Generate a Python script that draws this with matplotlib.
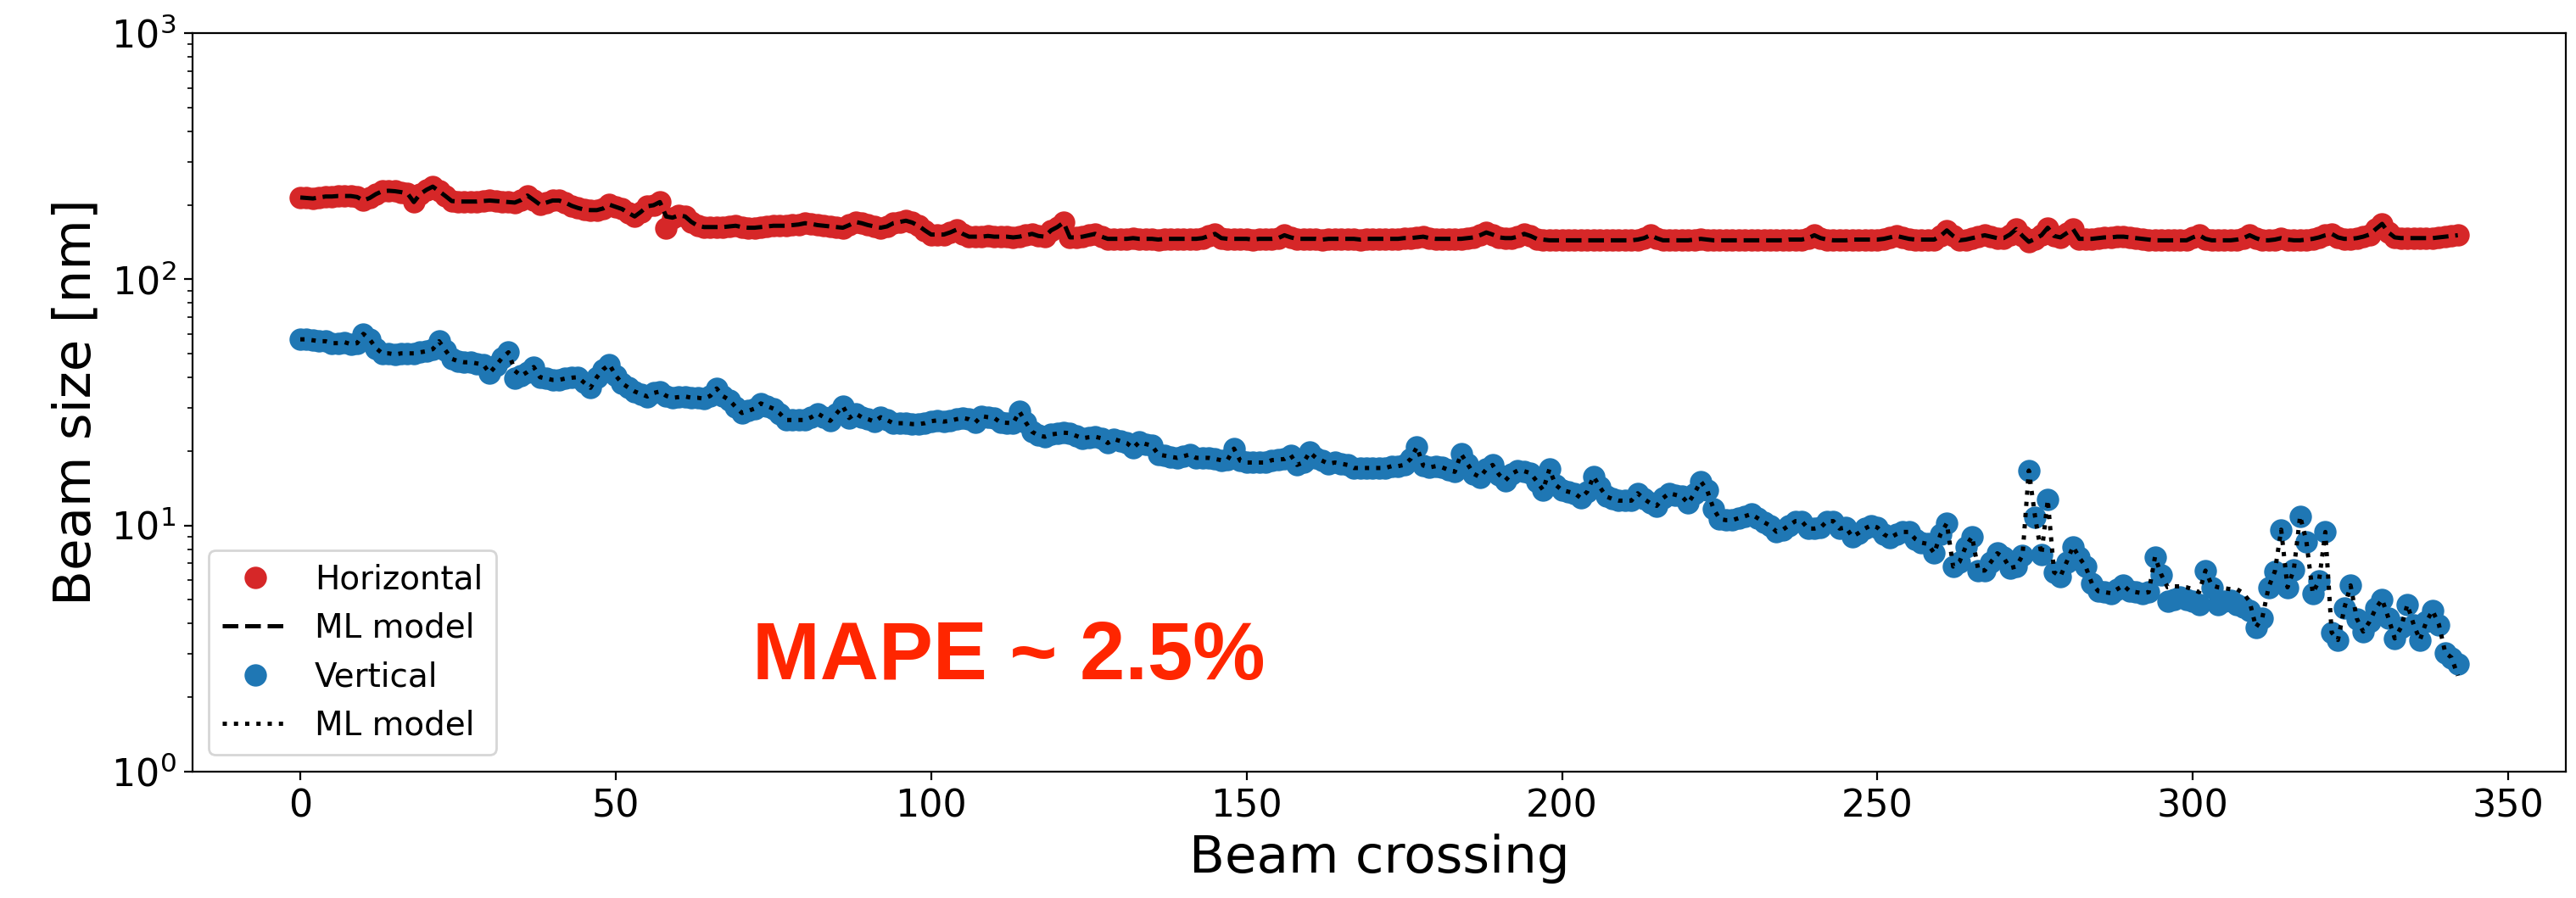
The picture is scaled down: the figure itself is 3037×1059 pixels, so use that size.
import numpy as np
import matplotlib.pyplot as plt

# horizontal beam size [nm], one value per beam crossing
horizontal = [
    215, 214, 213, 215, 217, 217, 218, 218, 218, 216,
    209, 214, 222, 228, 229, 228, 226, 223, 206, 222,
    231, 238, 228, 218, 208, 207, 207, 207, 207, 208,
    209, 208, 207, 206, 205, 210, 219, 210, 201, 205,
    209, 209, 205, 199, 195, 192, 191, 191, 194, 201,
    197, 193, 186, 180, 188, 198, 200, 206, 162, 178,
    182, 180, 171, 165, 163, 163, 163, 163, 164, 165,
    163, 162, 162, 163, 164, 165, 165, 165, 166, 167,
    169, 168, 166, 165, 164, 163, 162, 166, 171, 169,
    166, 164, 162, 164, 169, 171, 173, 170, 165, 158,
    152, 152, 152, 155, 159, 153, 149, 149, 149, 150,
    149, 149, 149, 148, 149, 151, 153, 150, 149, 158,
    163, 170, 148, 148, 149, 151, 153, 149, 146, 146,
    146, 146, 147, 146, 146, 146, 145, 146, 146, 146,
    146, 146, 146, 147, 150, 153, 147, 146, 146, 146,
    146, 145, 146, 146, 146, 147, 151, 148, 146, 146,
    146, 146, 145, 146, 146, 146, 146, 146, 145, 146,
    146, 146, 146, 146, 146, 147, 147, 148, 149, 147,
    146, 146, 146, 146, 146, 147, 148, 151, 155, 152,
    148, 147, 147, 149, 153, 150, 146, 145, 144, 144,
    144, 144, 144, 144, 144, 144, 144, 144, 144, 144,
    144, 144, 145, 147, 151, 147, 144, 144, 144, 144,
    144, 145, 146, 145, 144, 144, 144, 144, 144, 144,
    144, 144, 144, 144, 144, 144, 145, 145, 145, 147,
    151, 147, 145, 144, 144, 144, 145, 145, 145, 145,
    145, 146, 148, 150, 148, 146, 145, 145, 145, 145,
    150, 158, 150, 144, 145, 147, 149, 151, 149, 147,
    147, 152, 160, 150, 142, 146, 151, 162, 150, 148,
    154, 160, 146, 146, 146, 147, 148, 148, 149, 149,
    148, 147, 146, 145, 144, 144, 144, 144, 144, 144,
    148, 151, 146, 144, 144, 144, 144, 145, 147, 151,
    147, 144, 144, 145, 147, 145, 144, 144, 145, 146,
    148, 151, 153, 148, 146, 146, 147, 149, 152, 160,
    168, 155, 148, 147, 147, 147, 147, 147, 147, 148,
    149, 150, 151,
]

# vertical beam size [nm]
vertical = [
    57, 57, 56.5, 56, 56, 55, 55, 55.5, 54.5, 55,
    60, 57, 52.5, 50, 50, 49.5, 50, 50, 50, 50.5,
    51, 52, 56, 51.5, 47.5, 46.5, 46, 46, 45.5, 45,
    41.6, 44.5, 48, 50.5, 39.5, 40.5, 42, 44, 40, 39.5,
    39, 39, 39.5, 39.8, 40, 38, 36.2, 40, 43, 45,
    40.6, 37.8, 36.3, 35, 34.2, 33.4, 34.5, 35, 33.6, 33,
    33.2, 33.4, 33, 33, 32.7, 33.6, 36, 33.5, 32.3, 30.3,
    28.6, 29.2, 29.8, 31.3, 30.5, 29.8, 28.5, 26.8, 26.8, 26.8,
    26.8, 27.5, 28.5, 27.5, 26.6, 28.5, 30.5, 27.3, 28.5, 27.5,
    27, 26.4, 27.5, 26.8, 26, 26, 26, 25.8, 25.8, 26,
    26.5, 26.7, 26.4, 26.6, 27, 27.3, 27, 26.2, 27.8, 27.5,
    27.3, 26.2, 26.1, 26, 29, 26.2, 24, 23.2, 22.9, 23.4,
    23.6, 23.8, 23.7, 23.1, 22.6, 22.8, 22.9, 22.6, 21.6, 22.4,
    22, 21.6, 20.6, 21.8, 21.4, 21.1, 19.4, 19.2, 19, 18.8,
    19.1, 19.4, 18.8, 18.8, 18.8, 18.6, 18.4, 18.5, 20.5, 18.3,
    18, 18, 18, 18, 18.4, 18.5, 18.6, 19.3, 17.6, 18,
    19.8, 18.8, 18.3, 17.8, 18, 17.8, 17.6, 17.1, 17.1, 17.1,
    17.1, 17.1, 17.1, 17.4, 17.4, 17.6, 18.6, 20.8, 17.5, 17.2,
    17.4, 17.2, 16.8, 16.5, 19.5, 17.8, 16.2, 15.7, 16.9, 17.6,
    16.1, 15.2, 16.2, 16.7, 16.6, 16.3, 15.1, 13.9, 16.9, 14.6,
    13.9, 13.7, 13.5, 12.9, 13.7, 15.8, 14.3, 13.1, 12.8, 12.6,
    12.6, 12.6, 13.5, 12.8, 12.3, 12.0, 12.9, 13.5, 13.3, 13.1,
    12.3, 13.5, 15.1, 13.9, 11.7, 10.6, 10.5, 10.5, 10.7, 10.9,
    11.1, 10.7, 10.3, 9.97, 9.42, 9.6, 10, 10.4, 10.4, 9.7,
    9.7, 9.8, 10.4, 10.4, 9.7, 9.8, 9.0, 9.3, 9.7, 10,
    9.8, 9.2, 8.9, 9.2, 9.4, 9.4, 8.8, 8.5, 8.4, 7.7,
    9.2, 10.2, 6.8, 7.1, 8.2, 9.0, 6.55, 6.55, 7.1, 7.7,
    7.4, 6.7, 6.8, 7.55, 16.7, 10.8, 7.6, 12.7, 6.45, 6.2,
    7.1, 8.2, 7.4, 6.8, 5.8, 5.4, 5.35, 5.3, 5.5, 5.7,
    5.4, 5.35, 5.3, 5.35, 7.45, 6.3, 4.9, 5.0, 5.1, 5.0,
    4.9, 4.76, 6.55, 5.6, 4.76, 4.9, 4.95, 4.76, 4.65, 4.5,
    3.85, 4.2, 5.6, 6.5, 9.6, 5.6, 6.6, 10.9, 8.6, 5.3,
    5.95, 9.4, 3.67, 3.42, 4.6, 5.7, 4.17, 3.7, 4.06, 4.6,
    5.0, 4.2, 3.47, 3.85, 4.76, 3.95, 3.42, 4.06, 4.5, 3.95,
    3.04, 2.9, 2.74,
]

# ML model predictions: they follow the measurements except at these crossings
horizontal_model_diff = {58: 180}
vertical_model_diff = {
    34: 42.5, 296: 5.6, 297: 5.65, 298: 5.65, 299: 5.6, 300: 5.5, 301: 5.35,
    303: 5.7, 304: 5.6, 305: 5.55, 306: 5.5, 307: 5.5, 308: 5.3, 309: 4.9,
    342: 2.45,
}

horizontal_model = list(horizontal)
for i, val in horizontal_model_diff.items():
    horizontal_model[i] = val
vertical_model = list(vertical)
for i, val in vertical_model_diff.items():
    vertical_model[i] = val

x_h = np.arange(len(horizontal))
x_v = np.arange(len(vertical))

fig = plt.figure(figsize=(3037 / 200, 1059 / 200), dpi=200)
ax = fig.add_axes([0.0747, 0.141, 0.9213, 0.822])

ax.plot(x_h, horizontal, 'o', color='tab:red', markersize=8.5, label='Horizontal')
ax.plot(x_h, horizontal_model, 'k--', lw=1.8, label='ML model')
ax.plot(x_v, vertical, 'o', color='tab:blue', markersize=8.5, label='Vertical')
ax.plot(x_v, vertical_model, 'k:', lw=1.8, label='ML model')

ax.set_yscale('log')
ax.set_ylim(1, 1000)
ax.set_xticks([0, 50, 100, 150, 200, 250, 300, 350])
ax.tick_params(labelsize=16)
ax.set_xlabel('Beam crossing', fontsize=22)
ax.set_ylabel('Beam size [nm]', fontsize=22)

ax.legend(loc='lower left', fontsize=14, numpoints=1)
ax.text(71.6, 2.36, 'MAPE ~ 2.5%', color='#ff2600', fontsize=34.5,
        fontweight='bold', family='Liberation Sans', va='baseline')

fig.savefig('out.png', dpi=200)
